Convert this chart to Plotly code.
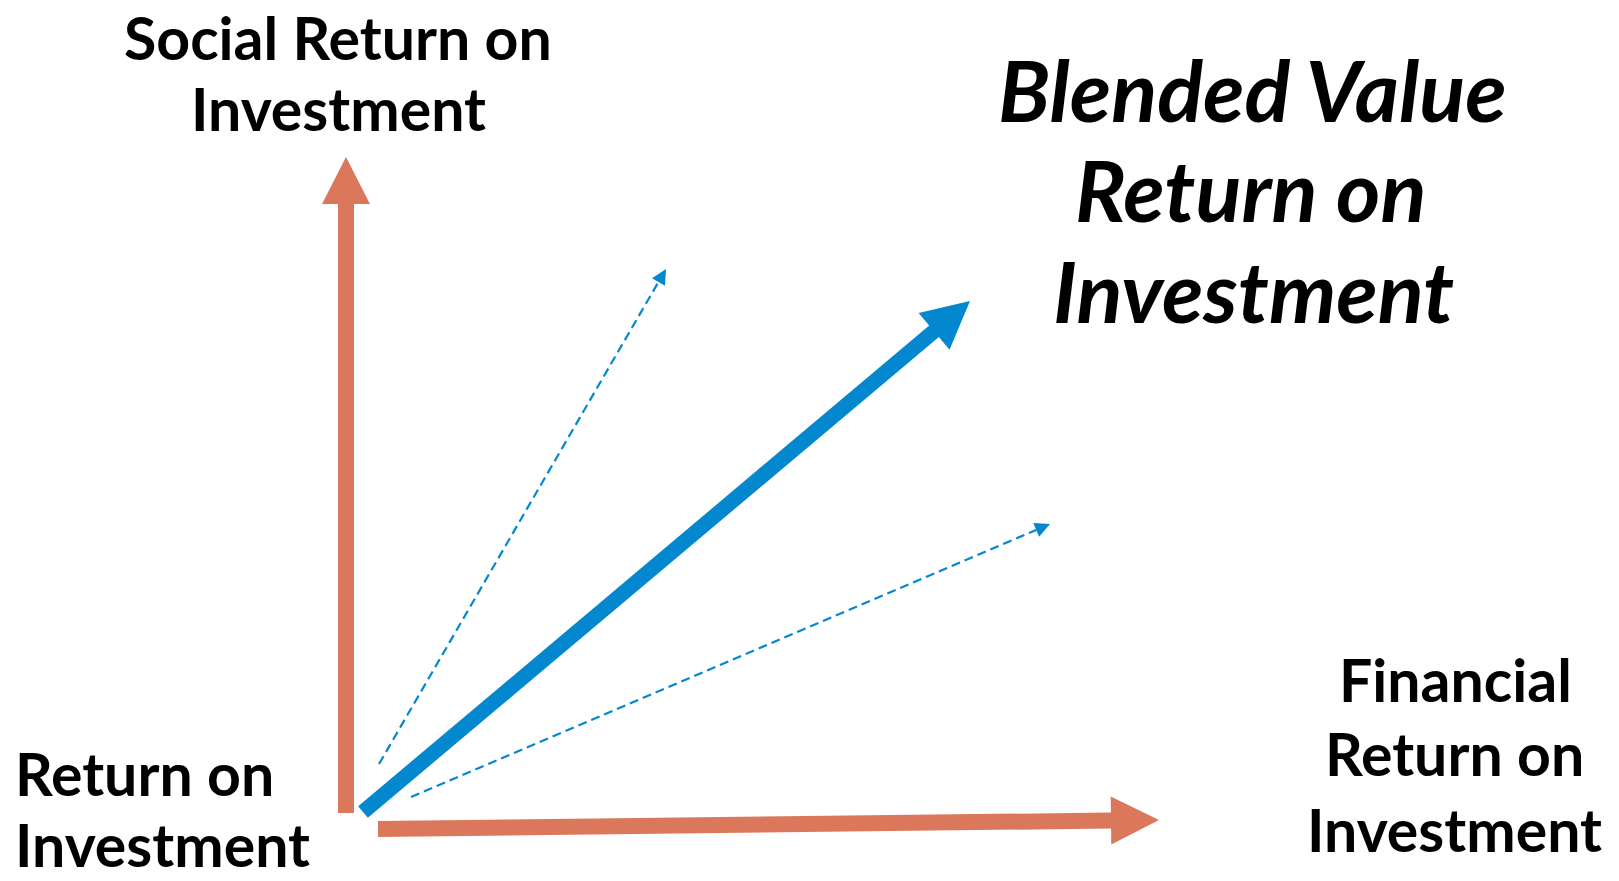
import numpy as np
import plotly.graph_objects as go

W, H = 1619, 881

# ---- data: arrow vectors (canvas pixel space, y grows downward) ----
arrow_names = ["social_axis", "financial_axis", "blended", "social_lean", "financial_lean"]
arrow_start_x = [346, 378, 363, 379, 411]
arrow_start_y = [813, 829, 812, 764, 797]
arrow_tip_x = [346, 1159, 970, 666, 1050]
arrow_tip_y = [157, 820, 301, 269, 524]

# ---- text labels ----
social_lines = ["Social Return on", "Investment"]
blended_lines = ["Blended Value", "Return on", "Investment"]
financial_lines = ["Financial", "Return on", "Investment"]
origin_lines = ["Return on", "Investment"]

ORANGE = "#DB785B"
BLUE = "#0387CF"

styles = {
    "social_axis": dict(kind="solid", color=ORANGE, shaft=16, head_w=48, head_len=47),
    "financial_axis": dict(kind="solid", color=ORANGE, shaft=16, head_w=48, head_len=48),
    "blended": dict(kind="solid", color=BLUE, shaft=15, head_w=48, head_len=47),
    "social_lean": dict(kind="dash", color=BLUE, shaft=2.2, head_w=15, head_len=15),
    "financial_lean": dict(kind="dash", color=BLUE, shaft=2.2, head_w=15, head_len=15),
}


def arrow_geometry(sx, sy, tx, ty, shaft, head_w, head_len):
    s = np.array([sx, sy], float)
    t = np.array([tx, ty], float)
    u = (t - s) / np.linalg.norm(t - s)
    n = np.array([-u[1], u[0]])
    b = t - u * head_len
    poly = [s + n * shaft / 2, b + n * shaft / 2, b + n * head_w / 2, t,
            b - n * head_w / 2, b - n * shaft / 2, s - n * shaft / 2, s + n * shaft / 2]
    head = [b + n * head_w / 2, t, b - n * head_w / 2, b + n * head_w / 2]
    return poly, head, s, b


fig = go.Figure()
for i, name in enumerate(arrow_names):
    st = styles[name]
    poly, head, s, b = arrow_geometry(arrow_start_x[i], arrow_start_y[i], arrow_tip_x[i], arrow_tip_y[i],
                                      st["shaft"], st["head_w"], st["head_len"])
    if st["kind"] == "solid":
        fig.add_trace(go.Scatter(x=[p[0] for p in poly], y=[p[1] for p in poly], mode="lines",
                                 fill="toself", fillcolor=st["color"], line=dict(width=0, color=st["color"]),
                                 hoverinfo="skip"))
    else:
        fig.add_trace(go.Scatter(x=[s[0], b[0]], y=[s[1], b[1]], mode="lines",
                                 line=dict(width=st["shaft"], color=st["color"], dash="9px,5px"),
                                 hoverinfo="skip"))
        fig.add_trace(go.Scatter(x=[p[0] for p in head], y=[p[1] for p in head], mode="lines",
                                 fill="toself", fillcolor=st["color"], line=dict(width=0, color=st["color"]),
                                 hoverinfo="skip"))

FONT = "Lato, 'Open Sans', sans-serif"


def add_lines(lines, xs, baselines, size, anchor="center", italic=False):
    for txt, x, bl in zip(lines, xs, baselines):
        fig.add_annotation(x=x, y=bl - 0.387 * size, xref="x", yref="y", text=txt, showarrow=False,
                           xanchor=anchor, yanchor="middle",
                           font=dict(family=FONT, size=size, color="black", weight="bold",
                                     style="italic" if italic else "normal"))


add_lines(social_lines, [338, 338], [60, 131], 59)
add_lines(blended_lines, [1252, 1251, 1253], [122, 222, 323], 85, italic=True)
add_lines(financial_lines, [1455, 1454, 1454], [702, 776, 852], 59)
add_lines(origin_lines, [13, 13], [796, 867], 59, anchor="left")

fig.update_layout(
    width=W, height=H, margin=dict(l=0, r=0, t=0, b=0),
    paper_bgcolor="white", plot_bgcolor="white", showlegend=False,
    xaxis=dict(range=[0, W], visible=False, fixedrange=True),
    yaxis=dict(range=[H, 0], visible=False, fixedrange=True),
)

fig.write_html("out.html", config={"displayModeBar": False, "staticPlot": True},
               post_script="document.body.style.margin='0';document.body.style.padding='0';"
                           "document.body.style.overflow='hidden';")
